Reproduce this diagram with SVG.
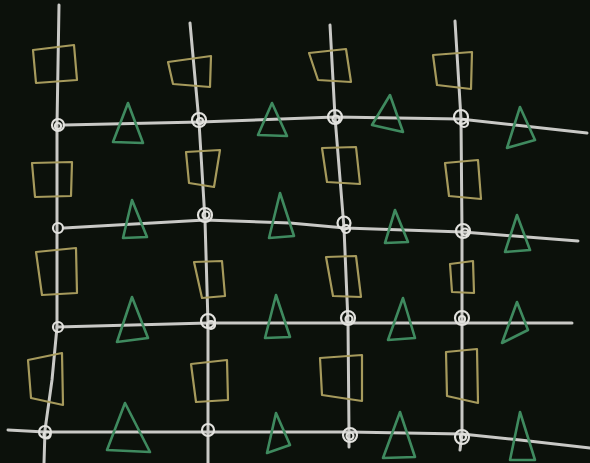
<svg xmlns="http://www.w3.org/2000/svg" width="590" height="463" viewBox="0 0 590 463">
<style>
.ln{fill:none;stroke:#c9c9c6;stroke-width:3;stroke-linecap:round;stroke-linejoin:round}
.nd{fill:none;stroke:#e2e2de;stroke-width:2.2}
.sq{fill:none;stroke:#a69a5c;stroke-width:2.2;stroke-linejoin:round;stroke-linecap:round}
.tr{fill:none;stroke:#3f8a5f;stroke-width:2.6;stroke-linejoin:round;stroke-linecap:round}
</style>
<rect width="590" height="463" fill="#0c110b"/>
<g id="connectors">
<path class="ln" d="M59,5 L57,125 L57,228 L57,327 L52,380 L45,430 L44,463"/>
<path class="ln" d="M190,23 L199,122 L205,220 L208,323 L208,432 L208,463"/>
<path class="ln" d="M330,25 L335,117 L344,228 L348,322 L349,432 L349,447"/>
<path class="ln" d="M455,21 L461,119 L462,232 L462,323 L462,434 L460,450"/>
<path class="ln" d="M64,125 L200,122 L335,117 L460,119 L587,133"/>
<path class="ln" d="M64,228 L205,220 L290,223 L345,228 L463,232 L578,241"/>
<path class="ln" d="M57,327 L208,323 L462,323 L572,323"/>
<path class="ln" d="M8,430 L45,432 L208,432 L349,432 L462,434 L520,440 L590,448"/>
</g>
<g id="squares">
<path id="s11" class="sq" d="M33,50 L74,45 L77,80 L36,83 Z"/>
<path id="s12" class="sq" d="M32,163 L72,162 L71,196 L35,197 Z"/>
<path id="s13" class="sq" d="M36,252 L76,248 L77,293 L42,295 Z"/>
<path id="s14" class="sq" d="M28,360 L62,353 L63,405 L31,398 Z"/>
<path id="s21" class="sq" d="M168,62 L211,56 L210,87 L173,84 Z"/>
<path id="s22" class="sq" d="M186,152 L220,150 L214,187 L189,183 Z"/>
<path id="s23" class="sq" d="M194,262 L222,261 L225,296 L202,298 Z"/>
<path id="s24" class="sq" d="M191,364 L227,360 L228,400 L196,402 Z"/>
<path id="s31" class="sq" d="M309,53 L346,49 L351,82 L318,80 Z"/>
<path id="s32" class="sq" d="M322,148 L356,147 L360,184 L327,182 Z"/>
<path id="s33" class="sq" d="M326,257 L356,256 L361,297 L333,296 Z"/>
<path id="s34" class="sq" d="M320,358 L362,355 L362,401 L322,395 Z"/>
<path id="s41" class="sq" d="M433,55 L472,52 L471,89 L437,85 Z"/>
<path id="s42" class="sq" d="M445,163 L478,160 L481,199 L449,196 Z"/>
<path id="s43" class="sq" d="M450,264 L473,261 L474,293 L452,292 Z"/>
<path id="s44" class="sq" d="M446,352 L477,349 L478,403 L447,396 Z"/>
</g>
<g id="triangles">
<path id="t11" class="tr" d="M128,103 L143,143 L113,142 Z"/>
<path id="t12" class="tr" d="M272,103 L287,136 L258,135 Z"/>
<path id="t13" class="tr" d="M390,95 L403,132 L372,125 Z"/>
<path id="t14" class="tr" d="M520,107 L535,140 L507,148 Z"/>
<path id="t21" class="tr" d="M132,200 L147,237 L123,238 Z"/>
<path id="t22" class="tr" d="M280,193 L294,236 L269,238 Z"/>
<path id="t23" class="tr" d="M395,210 L408,242 L385,243 Z"/>
<path id="t24" class="tr" d="M517,215 L530,250 L505,252 Z"/>
<path id="t31" class="tr" d="M132,297 L148,338 L117,342 Z"/>
<path id="t32" class="tr" d="M276,295 L290,337 L265,338 Z"/>
<path id="t33" class="tr" d="M403,298 L415,338 L388,340 Z"/>
<path id="t34" class="tr" d="M517,302 L528,330 L502,343 Z"/>
<path id="t41" class="tr" d="M125,403 L150,452 L107,450 Z"/>
<path id="t42" class="tr" d="M276,413 L290,445 L267,453 Z"/>
<path id="t43" class="tr" d="M400,412 L415,457 L383,458 Z"/>
<path id="t44" class="tr" d="M520,412 L535,460 L510,460 Z"/>
</g>
<g id="nodes">
<g id="n11"><circle class="nd" cx="58" cy="125" r="6"/><circle class="nd" cx="58" cy="126" r="3"/></g>
<g id="n12"><circle class="nd" cx="199" cy="120" r="7"/><circle class="nd" cx="200" cy="121" r="3"/></g>
<g id="n13"><circle class="nd" cx="335" cy="117" r="7"/><circle class="nd" cx="336" cy="119" r="3.5"/></g>
<g id="n14"><circle class="nd" cx="461" cy="117" r="7"/><circle class="nd" cx="464" cy="123" r="4"/></g>
<g id="n21"><circle class="nd" cx="58" cy="228" r="5"/></g>
<g id="n22"><circle class="nd" cx="205" cy="215" r="7"/><circle class="nd" cx="206" cy="215" r="3.5"/></g>
<g id="n23"><circle class="nd" cx="344" cy="223" r="6.5"/><circle class="nd" cx="346" cy="229" r="4"/></g>
<g id="n24"><circle class="nd" cx="463" cy="231" r="7"/><circle class="nd" cx="465" cy="232" r="3.5"/></g>
<g id="n31"><circle class="nd" cx="58" cy="327" r="5"/></g>
<g id="n32"><circle class="nd" cx="208" cy="321" r="7"/><circle class="nd" cx="211" cy="325" r="4"/></g>
<g id="n33"><circle class="nd" cx="348" cy="318" r="7"/><circle class="nd" cx="349" cy="319" r="3.5"/></g>
<g id="n34"><circle class="nd" cx="462" cy="318" r="7"/><circle class="nd" cx="462" cy="319" r="3"/></g>
<g id="n41"><circle class="nd" cx="45" cy="432" r="6"/><circle class="nd" cx="47" cy="435" r="3.5"/></g>
<g id="n42"><circle class="nd" cx="208" cy="430" r="6"/></g>
<g id="n43"><circle class="nd" cx="350" cy="435" r="7"/><circle class="nd" cx="350" cy="436" r="3.5"/></g>
<g id="n44"><circle class="nd" cx="462" cy="437" r="7"/><circle class="nd" cx="463" cy="437" r="3"/></g>
</g>
</svg>
